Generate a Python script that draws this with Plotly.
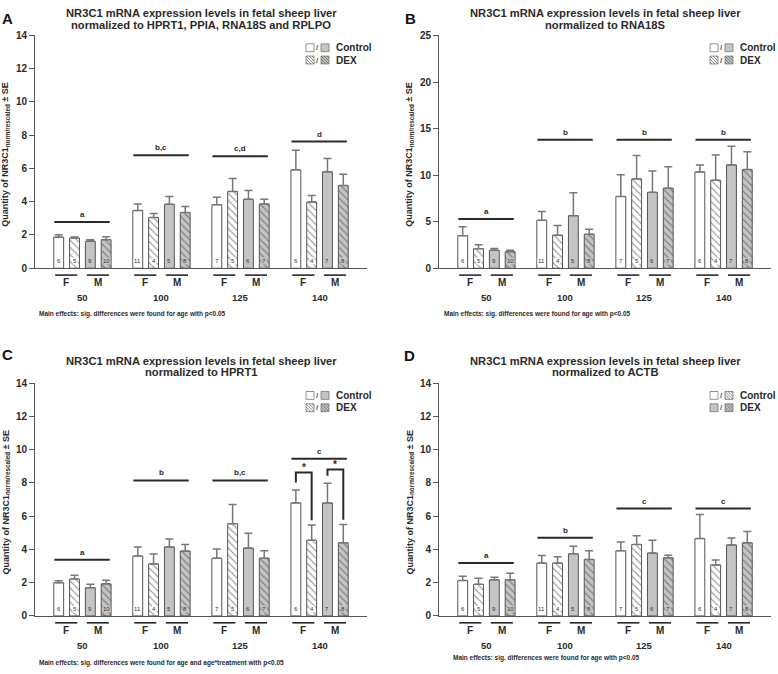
import plotly.graph_objects as go

W, H = 778, 674
FONT = "Liberation Sans, Arial, sans-serif"

ages = ["50", "100", "125", "140"]
sexes = ["F", "M"]
series = ["F Control", "F DEX", "M Control", "M DEX"]
# n per age group (rows) and series (cols)
n_counts = [[6, 5, 9, 10], [11, 4, 5, 8], [7, 5, 6, 7], [6, 4, 7, 8]]

# ---- Panel A: normalized to HPRT1, PPIA, RNA18S and RPLPO ----
A_mean = [[1.87, 3.47, 3.82, 5.92],
          [1.82, 3.05, 4.62, 3.98],
          [1.62, 3.85, 4.15, 5.80],
          [1.72, 3.35, 3.87, 4.98]]
A_err = [[0.14, 0.40, 0.45, 1.18],
         [0.06, 0.25, 0.78, 0.40],
         [0.10, 0.47, 0.52, 0.80],
         [0.18, 0.37, 0.28, 0.68]]
A_sig_y = [2.78, 6.79, 6.73, 7.62]
A_sig_lbl = ["a", "b,c", "c,d", "d"]

# ---- Panel B: normalized to RNA18S ----
B_mean = [[3.50, 5.15, 7.70, 10.35],
          [2.10, 3.55, 9.60, 9.45],
          [1.92, 5.65, 8.15, 11.10],
          [1.78, 3.65, 8.60, 10.60]]
B_err = [[0.95, 0.95, 2.35, 0.75],
         [0.42, 1.05, 2.50, 2.70],
         [0.20, 2.45, 2.30, 2.00],
         [0.15, 0.55, 2.30, 1.90]]
B_sig_y = [5.3, 13.8, 13.8, 13.8]
B_sig_lbl = ["a", "b", "b", "b"]

# ---- Panel C: normalized to HPRT1 ----
C_mean = [[2.00, 3.60, 3.47, 6.80],
          [2.22, 3.13, 5.55, 4.55],
          [1.70, 4.15, 4.08, 6.80],
          [1.93, 3.90, 3.47, 4.40]]
C_err = [[0.12, 0.55, 0.55, 0.77],
         [0.22, 0.60, 1.15, 0.92],
         [0.20, 0.48, 0.90, 1.18],
         [0.22, 0.40, 0.45, 1.10]]
C_sig_y = [3.38, 8.15, 8.15, 9.45]
C_sig_lbl = ["a", "b", "b,c", "c"]
# asterisk brackets at age 140: (left series, right series, top, left leg end, right leg end)
C_brackets = [(0, 1, 8.62, 8.03, 5.75), (2, 3, 8.80, 8.43, 5.79)]

# ---- Panel D: normalized to ACTB ----
D_mean = [[2.13, 3.18, 3.92, 4.65],
          [1.90, 3.18, 4.30, 3.07],
          [2.17, 3.74, 3.78, 4.27],
          [2.18, 3.40, 3.50, 4.40]]
D_err = [[0.25, 0.45, 0.52, 1.45],
         [0.36, 0.38, 0.52, 0.30],
         [0.15, 0.45, 0.77, 0.42],
         [0.38, 0.52, 0.15, 0.68]]
D_sig_y = [3.19, 4.71, 6.46, 6.46]
D_sig_lbl = ["a", "b", "c", "c"]

panels = [
    dict(letter="A", subtitle="normalized to HPRT1, PPIA, RNA18S and RPLPO",
         mean=A_mean, err=A_err, sig_y=A_sig_y, sig_lbl=A_sig_lbl, ymax=14, dtick=2,
         note="Main effects: sig. differences were found for age with p<0.05",
         frame=(35, 30, 367, 267), note_pos=(37, 314), letter_pos=(7.5, 13),
         legend="std", brackets=[]),
    dict(letter="B", subtitle="normalized to RNA18S",
         mean=B_mean, err=B_err, sig_y=B_sig_y, sig_lbl=B_sig_lbl, ymax=25, dtick=5,
         note="Main effects: sig. differences were found for age with p<0.05",
         frame=(439, 30, 771, 267), note_pos=(442, 314), letter_pos=(411, 12.5),
         legend="std", brackets=[]),
    dict(letter="C", subtitle="normalized to HPRT1",
         mean=C_mean, err=C_err, sig_y=C_sig_y, sig_lbl=C_sig_lbl, ymax=14, dtick=2,
         note="Main effects: sig. differences were found for age and age*treatment with p<0.05",
         frame=(35, 384, 367, 621), note_pos=(37, 669), letter_pos=(7.5, 355),
         legend="std", brackets=C_brackets),
    dict(letter="D", subtitle="normalized to ACTB",
         mean=D_mean, err=D_err, sig_y=D_sig_y, sig_lbl=D_sig_lbl, ymax=14, dtick=2,
         note="Main effects: sig. differences were found for age with p<0.05",
         frame=(439, 384, 771, 621), note_pos=(451, 664), letter_pos=(409, 356),
         legend="alt", brackets=[]),
]

offsets = [-0.3, -0.1, 0.1, 0.3]
fills = ["#ffffff", "#ffffff", "#c4c4c4", "#c4c4c4"]
hatched = [False, True, False, True]
BAR_W = 0.125
AXC = "#555555"
DARK = "#2a2a2a"


def px(x):
    return x / W


def py(y):
    return 1 - y / H


fig = go.Figure()
shapes = []
annotations = []
layout = {}


def bold(size, color=DARK):
    return dict(family=FONT, size=size, color=color, weight="bold")


def legend_box(x0, y0, s, fill, hatch):
    shapes.append(dict(type="rect", xref="paper", yref="paper",
                       x0=px(x0), x1=px(x0 + s), y0=py(y0 + s), y1=py(y0),
                       fillcolor=fill, line=dict(color="#777777", width=0.8)))
    if hatch:
        path = ""
        for c in (-6, -3, 0, 3, 6):
            if c >= 0:
                a, b, cc, d = x0 + c, y0, x0 + s, y0 + s - c
            else:
                a, b, cc, d = x0, y0 - c, x0 + s + c, y0 + s
            path += f"M{px(a):.5f},{py(b):.5f}L{px(cc):.5f},{py(d):.5f}"
        shapes.append(dict(type="path", xref="paper", yref="paper", path=path,
                           line=dict(color="#666666", width=0.8)))


for i, P in enumerate(panels):
    L, T, R, B = P["frame"]
    sfx = "" if i == 0 else str(i + 1)
    xr, yr = "x" + sfx, "y" + sfx
    layout["xaxis" + sfx] = dict(domain=[px(L), px(R)], range=[-0.6, 3.6], anchor=yr,
                                 showline=True, linecolor=AXC, linewidth=1.2,
                                 showticklabels=False, ticks="", showgrid=False,
                                 zeroline=False, fixedrange=True)
    layout["yaxis" + sfx] = dict(domain=[py(B), py(T)], range=[0, P["ymax"]], anchor=xr,
                                 showline=True, linecolor=AXC, linewidth=1,
                                 ticks="outside", ticklen=5, tickcolor=AXC, tickwidth=1,
                                 tickvals=list(range(0, P["ymax"] + 1, P["dtick"])),
                                 tickfont=bold(10), showgrid=False, zeroline=False,
                                 fixedrange=True)

    # bars
    for s in range(4):
        marker = dict(color=fills[s], line=dict(color=AXC, width=1))
        if hatched[s]:
            marker["pattern"] = dict(shape="\\", fgcolor="#333333", bgcolor=fills[s],
                                     size=5, solidity=0.22)
        xs = [g + offsets[s] for g in range(4)]
        fig.add_trace(go.Bar(
            x=xs, y=P["mean"][s], width=BAR_W, marker=marker,
            error_y=dict(type="data", array=P["err"][s], arrayminus=[0] * 4,
                         symmetric=False, color="#777777", thickness=1.5, width=4),
            xaxis=xr, yaxis=yr, showlegend=False, hoverinfo="skip", name=series[s]))
        # n labels at the foot of each bar
        for g in range(4):
            annotations.append(dict(xref=xr, yref=yr, x=xs[g], y=0,
                                    text=str(n_counts[g][s]), showarrow=False,
                                    xanchor="center", yanchor="bottom", yshift=3,
                                    bgcolor=fills[s], borderpad=0,
                                    font=dict(family=FONT, size=6, color="#333333")))

    # significance lines and letters
    for g in range(4):
        shapes.append(dict(type="line", xref=xr, yref=yr, x0=g - 0.355, x1=g + 0.345,
                           y0=P["sig_y"][g], y1=P["sig_y"][g],
                           line=dict(color=DARK, width=2)))
        annotations.append(dict(xref=xr, yref=yr, x=g - 0.005, y=P["sig_y"][g],
                                text=P["sig_lbl"][g], showarrow=False, xanchor="center",
                                yanchor="bottom", yshift=1, font=bold(8)))

    # asterisk brackets
    for (sl, sr, top, yl, yrr) in P["brackets"]:
        xl, xrr = 3 + offsets[sl], 3 + offsets[sr]
        shapes.append(dict(type="path", xref=xr, yref=yr,
                           path=f"M{xl},{yl}L{xl},{top}L{xrr},{top}L{xrr},{yrr}",
                           line=dict(color=DARK, width=2)))
        annotations.append(dict(xref=xr, yref=yr, x=(xl + xrr) / 2, y=top, text="*",
                                showarrow=False, xanchor="center", yanchor="bottom",
                                yshift=-2, font=bold(10)))

    # sex underlines, sex labels, age labels
    for g in range(4):
        for k, sx in enumerate(sexes):
            base = g + (-0.2 if k == 0 else 0.2)
            shapes.append(dict(type="line", xref=xr, yref="paper",
                               x0=base - 0.145, x1=base + 0.135,
                               y0=py(B + 7), y1=py(B + 7),
                               line=dict(color=DARK, width=1.6)))
            annotations.append(dict(xref=xr, yref="paper", x=base - 0.005, y=py(B + 15),
                                    text=sx, showarrow=False, xanchor="center",
                                    yanchor="middle", font=bold(10)))
        annotations.append(dict(xref=xr, yref="paper", x=g, y=py(B + 30),
                                text=ages[g], showarrow=False, xanchor="center",
                                yanchor="middle", font=bold(9.5)))

    # titles
    cx = (L + R) / 2
    annotations.append(dict(xref="paper", yref="paper", x=px(cx), y=py(T - 23),
                            text="NR3C1 mRNA expression levels in fetal sheep liver",
                            showarrow=False, xanchor="center", yanchor="middle",
                            font=bold(11.2)))
    annotations.append(dict(xref="paper", yref="paper", x=px(cx), y=py(T - 11),
                            text=P["subtitle"], showarrow=False, xanchor="center",
                            yanchor="middle", font=bold(11.2)))
    # panel letter
    annotations.append(dict(xref="paper", yref="paper", x=px(P["letter_pos"][0]),
                            y=py(P["letter_pos"][1]), text=P["letter"], showarrow=False,
                            xanchor="center", yanchor="middle", font=bold(15, "#111111")))
    # y-axis title
    annotations.append(dict(xref="paper", yref="paper", x=px(L - 29), y=py((T + B) / 2 + 3),
                            text="Quantity of NR3C1<sub>norm/rescaled</sub> ± SE",
                            showarrow=False, textangle=-90, xanchor="center",
                            yanchor="middle", font=bold(9)))
    # note
    annotations.append(dict(xref="paper", yref="paper", x=px(P["note_pos"][0]),
                            y=py(P["note_pos"][1]), text=P["note"], showarrow=False,
                            xanchor="left", yanchor="middle", font=bold(6.5)))

    # legend
    lx = L + 271
    rows = ([("#ffffff", False), ("#c4c4c4", False)], [("#ffffff", True), ("#c4c4c4", True)])
    if P["legend"] == "alt":
        rows = ([("#ffffff", False), ("#ffffff", True)], [("#c4c4c4", False), ("#c4c4c4", True)])
    for r, (items, lab) in enumerate(zip(rows, ["Control", "DEX"])):
        yc = T + 12.5 + r * 12.5
        legend_box(lx, yc - 4, 8, items[0][0], items[0][1])
        annotations.append(dict(xref="paper", yref="paper", x=px(lx + 11.5), y=py(yc),
                                text="/", showarrow=False, xanchor="center",
                                yanchor="middle", font=bold(8, "#555555")))
        legend_box(lx + 15, yc - 4, 8, items[1][0], items[1][1])
        annotations.append(dict(xref="paper", yref="paper", x=px(lx + 28), y=py(yc),
                                text=lab, showarrow=False, xanchor="left",
                                yanchor="middle", font=bold(10)))

fig.update_layout(**layout)
fig.update_layout(width=W, height=H, margin=dict(l=0, r=0, t=0, b=0),
                  paper_bgcolor="white", plot_bgcolor="white", barmode="overlay",
                  shapes=shapes, annotations=annotations, showlegend=False,
                  font=dict(family=FONT))
# remove the browser's default 8px page margin so the figure sits at the window origin
fig.write_html("out.html", config={"displayModeBar": False},
               post_script="document.body.style.margin='0';document.body.style.overflow='hidden';")
